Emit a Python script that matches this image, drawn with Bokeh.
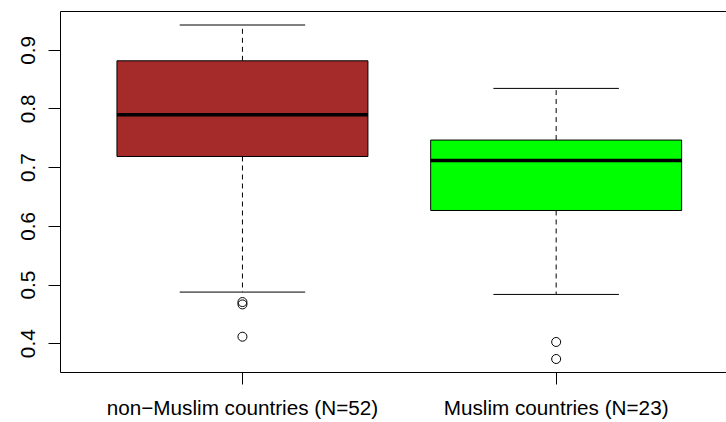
from bokeh.plotting import figure
from bokeh.models import FixedTicker, LinearAxis
from bokeh.embed import file_html
from bokeh.resources import INLINE

# ---- data ----
groups = ["non\u2212Muslim countries (N=52)", "Muslim countries (N=23)"]
positions = [1, 2]
lower_whisker = [0.488, 0.484]
q1 = [0.719, 0.627]
median = [0.790, 0.712]
q3 = [0.882, 0.747]
upper_whisker = [0.943, 0.835]
outlier_group = [1, 1, 1, 2, 2]
outlier_value = [0.471, 0.467, 0.412, 0.403, 0.374]
box_colors = ["#A52A2A", "#00FF00"]
y_ticks = [0.4, 0.5, 0.6, 0.7, 0.8, 0.9]

BOX_W = 0.8
CAP_W = 0.4
FONT = "Liberation Sans"
FSIZE = "20.7px"

p = figure(width=726, height=422, output_backend="svg", toolbar_location=None,
           x_range=(0.42, 2.543), y_range=(0.351, 0.966))
p.outline_line_color = None
p.grid.visible = False
p.min_border_left = 60
p.min_border_right = 0
p.min_border_top = 11
p.min_border_bottom = 50

# whiskers (dashed)
p.segment(x0=positions, y0=q3, x1=positions, y1=upper_whisker,
          line_color="black", line_width=1, line_dash="5 4")
p.segment(x0=positions, y0=q1, x1=positions, y1=lower_whisker,
          line_color="black", line_width=1, line_dash="5 4")
# staples
cap_l = [x - CAP_W / 2 for x in positions]
cap_r = [x + CAP_W / 2 for x in positions]
p.segment(x0=cap_l, y0=upper_whisker, x1=cap_r, y1=upper_whisker,
          line_color="black", line_width=1)
p.segment(x0=cap_l, y0=lower_whisker, x1=cap_r, y1=lower_whisker,
          line_color="black", line_width=1)
# boxes
p.vbar(x=positions, width=BOX_W, bottom=q1, top=q3, fill_color=box_colors,
       line_color="black", line_width=1)
# medians
med_l = [x - BOX_W / 2 for x in positions]
med_r = [x + BOX_W / 2 for x in positions]
p.segment(x0=med_l, y0=median, x1=med_r, y1=median,
          line_color="black", line_width=3.5, line_cap="butt")
# outliers
p.scatter(x=outlier_group, y=outlier_value, marker="circle", size=9,
          fill_color=None, line_color="black", line_width=1)

for ax in (p.xaxis[0], p.yaxis[0]):
    ax.axis_line_color = "black"
    ax.axis_line_width = 1
    ax.major_tick_line_color = "black"
    ax.major_tick_line_width = 1
    ax.major_tick_in = 0
    ax.minor_tick_line_color = None
    ax.major_label_text_font = FONT
    ax.major_label_text_font_size = FSIZE
    ax.major_label_text_color = "black"

p.yaxis[0].ticker = FixedTicker(ticks=y_ticks)
p.yaxis[0].major_label_overrides = {t: f"{t:.1f}" for t in y_ticks}
p.yaxis[0].major_tick_out = 12
p.yaxis[0].major_label_orientation = "parallel"
p.yaxis[0].major_label_standoff = 13

p.xaxis[0].ticker = FixedTicker(ticks=positions)
p.xaxis[0].major_label_overrides = {x: g for x, g in zip(positions, groups)}
p.xaxis[0].major_tick_out = 12
p.xaxis[0].major_label_standoff = 11

top = LinearAxis(ticker=FixedTicker(ticks=[]), major_tick_line_color=None,
                 minor_tick_line_color=None, major_label_text_font_size="0px",
                 axis_line_color="black", axis_line_width=1)
p.add_layout(top, "above")

open("out.html", "w").write(file_html(p, INLINE))
